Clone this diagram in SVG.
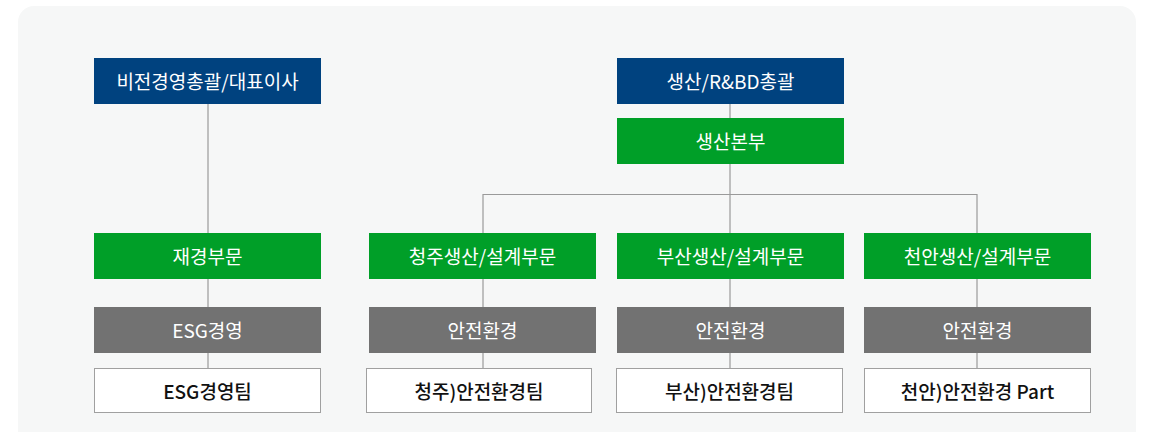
<svg xmlns="http://www.w3.org/2000/svg" width="1152" height="432" viewBox="0 0 1152 432">
<style>
text{font-family:"Noto Sans CJK KR","Noto Sans",sans-serif;font-size:19px;text-anchor:middle;dominant-baseline:central}
.blue{fill:#00427F}
.green{fill:#009F28}
.gray{fill:#727272}
.white{fill:#FFFFFF;stroke:#A0A0A0;stroke-width:1}
.lt{fill:#FFFFFF}
.dt{fill:#111111;font-weight:500}
.conn{stroke:#9A9A9A;stroke-width:1.2;fill:none}
</style>
<rect x="18" y="6" width="1118" height="440" rx="16" fill="#F6F7F7"/>
<g id="connectors">
<path class="conn" d="M208 104V233M208 279V307M208 353V368"/>
<path class="conn" d="M730 104V118M730 164V233M483 233V194.5H977V233"/>
<path class="conn" d="M483 279V307M483 353V368M730 279V307M730 353V368M977 279V307M977 353V368"/>
</g>
<g id="n1"><rect class="blue" x="94" y="58" width="227" height="46"/><text class="lt" x="207.5" y="80">비전경영총괄/대표이사</text></g>
<g id="n2"><rect class="green" x="94" y="233" width="227" height="46"/><text class="lt" x="207.5" y="255">재경부문</text></g>
<g id="n3"><rect class="gray" x="94" y="307" width="227" height="46"/><text class="lt" x="207.5" y="329">ESG경영</text></g>
<g id="n4"><rect class="white" x="94.5" y="368.5" width="226" height="44"/><text class="dt" x="207.5" y="390">ESG경영팀</text></g>
<g id="n5"><rect class="blue" x="617" y="58" width="227" height="46"/><text class="lt" x="730.5" y="80">생산/R&amp;BD총괄</text></g>
<g id="n6"><rect class="green" x="617" y="118" width="227" height="46"/><text class="lt" x="730.5" y="140">생산본부</text></g>
<g id="n7"><rect class="green" x="369" y="233" width="227" height="46"/><text class="lt" x="482.5" y="255">청주생산/설계부문</text></g>
<g id="n8"><rect class="gray" x="369" y="307" width="227" height="46"/><text class="lt" x="482.5" y="329">안전환경</text></g>
<g id="n9"><rect class="white" x="366.5" y="368.5" width="225" height="44"/><text class="dt" x="479" y="390">청주)안전환경팀</text></g>
<g id="n10"><rect class="green" x="617" y="233" width="227" height="46"/><text class="lt" x="730.5" y="255">부산생산/설계부문</text></g>
<g id="n11"><rect class="gray" x="617" y="307" width="227" height="46"/><text class="lt" x="730.5" y="329">안전환경</text></g>
<g id="n12"><rect class="white" x="616.5" y="368.5" width="226" height="44"/><text class="dt" x="729.5" y="390">부산)안전환경팀</text></g>
<g id="n13"><rect class="green" x="864" y="233" width="227" height="46"/><text class="lt" x="977.5" y="255">천안생산/설계부문</text></g>
<g id="n14"><rect class="gray" x="864" y="307" width="227" height="46"/><text class="lt" x="977.5" y="329">안전환경</text></g>
<g id="n15"><rect class="white" x="864.5" y="368.5" width="226" height="44"/><text class="dt" x="977.5" y="390">천안)안전환경 Part</text></g>
</svg>
